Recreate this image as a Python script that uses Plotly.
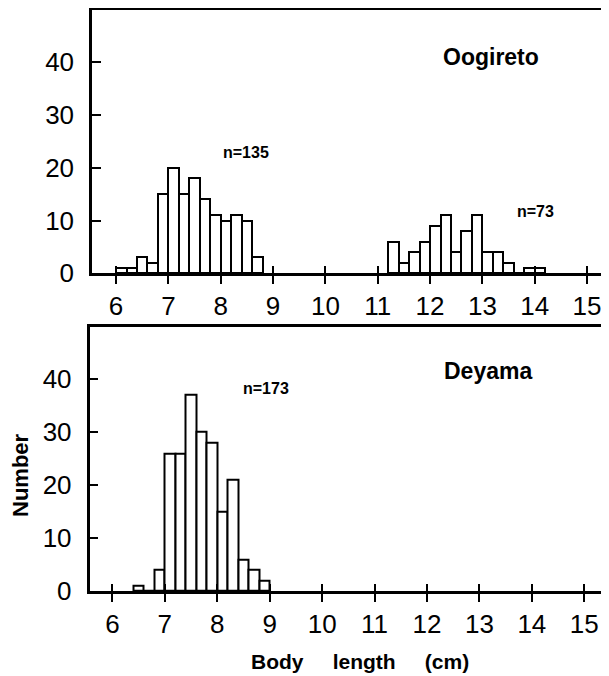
import plotly.graph_objects as go

# ---- data (bin lower edges in cm, counts) ----
oogi_bins = [6.0, 6.2, 6.4, 6.6, 6.8, 7.0, 7.2, 7.4, 7.6, 7.8, 8.0, 8.2, 8.4, 8.6,
             11.2, 11.4, 11.6, 11.8, 12.0, 12.2, 12.4, 12.6, 12.8, 13.0, 13.2, 13.4, 13.6, 13.8, 14.0]
oogi_counts = [1, 1, 3, 2, 15, 20, 15, 18, 14, 11, 10, 11, 10, 3,
               6, 2, 4, 6, 9, 11, 4, 8, 11, 4, 4, 2, 0, 1, 1]

deya_bins = [6.4, 6.6, 6.8, 7.0, 7.2, 7.4, 7.6, 7.8, 8.0, 8.2, 8.4, 8.6, 8.8]
deya_counts = [1, 0, 4, 26, 26, 37, 30, 28, 15, 21, 6, 4, 2]

bin_width = 0.2
x_ticks = [6, 7, 8, 9, 10, 11, 12, 13, 14, 15]
y_ticks = [0, 10, 20, 30, 40]

FONT = "Liberation Sans"
OFF = 8                      # page body margin
W, H = 609 - OFF, 676 - OFF  # figure size so it ends at the window edge

def px_x(px):  # reference pixel x -> paper
    return (px - OFF) / W

def px_y(py):  # reference pixel y -> paper
    return 1 - (py - OFF) / H

fig = go.Figure()

bar_style = dict(width=bin_width, offset=0, marker=dict(color="white", line=dict(color="black", width=2)),
                 showlegend=False, hoverinfo="skip")
fig.add_trace(go.Bar(x=oogi_bins, y=oogi_counts, xaxis="x", yaxis="y", **bar_style))
fig.add_trace(go.Bar(x=deya_bins, y=deya_counts, xaxis="x2", yaxis="y2", **bar_style))
# helper traces for the inward half of the crossing x ticks
fig.add_trace(go.Scatter(x=[], y=[], xaxis="x3", yaxis="y", showlegend=False))
fig.add_trace(go.Scatter(x=[], y=[], xaxis="x4", yaxis="y2", showlegend=False))

tickfont = dict(family=FONT, size=26, color="black")

def xax(domain, rng, anchor):
    return dict(domain=domain, range=rng, anchor=anchor, tickvals=x_ticks, ticks="outside",
                ticklen=8, tickwidth=2, tickcolor="black", showline=True, linecolor="black",
                linewidth=2.5, mirror=True, showgrid=False, zeroline=False, tickfont=tickfont,
                automargin=False)

def xin(domain, rng, anchor, over):
    return dict(domain=domain, range=rng, anchor=anchor, overlaying=over, tickvals=x_ticks,
                ticks="inside", ticklen=7, tickwidth=2, tickcolor="black", showline=False,
                showgrid=False, zeroline=False, showticklabels=False)

def yax(domain, anchor):
    return dict(domain=domain, range=[0, 49.9], anchor=anchor, tickvals=y_ticks, ticks="inside",
                ticklen=9, tickwidth=2, tickcolor="black", showline=True, linecolor="black",
                linewidth=2.5, showgrid=False, zeroline=False, tickfont=tickfont,
                automargin=False, ticklabelstandoff=10)

top_rng = [5.54, 15.42]
bot_rng = [5.563, 15.472]
top_dom = [px_x(92), 1]
bot_dom = [px_x(89.5), 1]

fig.update_layout(
    width=W, height=H,
    margin=dict(l=0, r=0, t=0, b=0),
    paper_bgcolor="white", plot_bgcolor="white",
    bargap=0,
    xaxis=xax(top_dom, top_rng, "y"),
    xaxis2=xax(bot_dom, bot_rng, "y2"),
    xaxis3=xin(top_dom, top_rng, "y", "x"),
    xaxis4=xin(bot_dom, bot_rng, "y2", "x2"),
    yaxis=yax([px_y(273.3), px_y(10)], "x"),
    yaxis2=yax([px_y(591), px_y(326.7)], "x2"),
    font=dict(family=FONT, color="black"),
)

bold = lambda s: dict(family=FONT, size=s, color="black")
sp = "\u00a0" * 5
ann = [
    dict(text="<b>Oogireto</b>", x=13.16, y=41.0, xref="x", yref="y", font=bold(23)),
    dict(text="<b>n=135</b>", x=8.48, y=22.8, xref="x", yref="y", font=bold(16)),
    dict(text="<b>n=73</b>", x=14.01, y=11.8, xref="x", yref="y", font=bold(16)),
    dict(text="<b>Deyama</b>", x=13.16, y=41.5, xref="x2", yref="y2", font=bold(23)),
    dict(text="<b>n=173</b>", x=8.93, y=38.3, xref="x2", yref="y2", font=bold(16)),
    dict(text="<b>Body" + sp + "length" + sp + "(cm)</b>", x=px_x(360), y=px_y(661),
         xref="paper", yref="paper", font=bold(21)),
    dict(text="<b>Number</b>", x=px_x(20), y=px_y(475), xref="paper", yref="paper",
         textangle=-90, font=bold(22)),
]
for a in ann:
    a.update(showarrow=False, xanchor="center", yanchor="middle")
fig.update_layout(annotations=ann)

fig.write_html("out.html")
